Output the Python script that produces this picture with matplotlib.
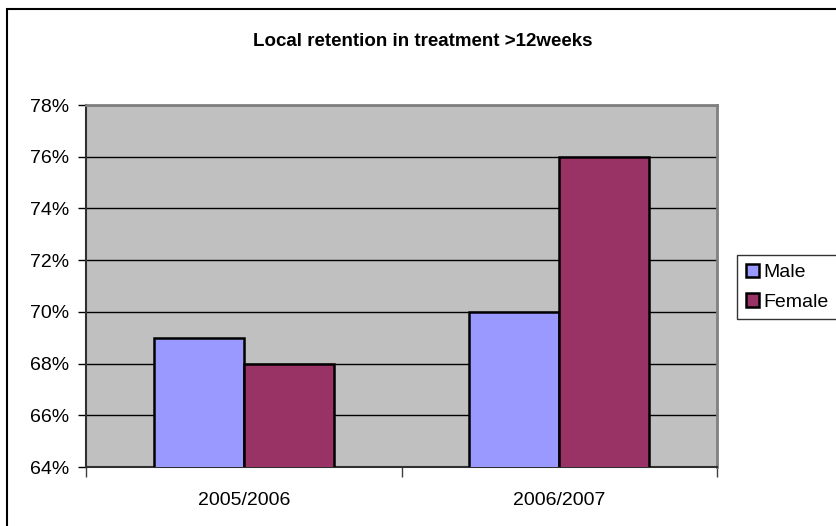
import numpy as np
import matplotlib.pyplot as plt
from matplotlib.patches import Rectangle
from matplotlib.ticker import FuncFormatter

# Data
periods = ['2005/2006', '2006/2007']
male = [69, 70]
female = [68, 76]
series_names = ['Male', 'Female']
colors = ['#9999FF', '#993366']

plt.rcParams['font.family'] = ['Liberation Sans', 'DejaVu Sans']

W, H = 837, 526
fig = plt.figure(figsize=(W / 100, H / 100), dpi=100)

# outer chart frame (runs off the right/bottom edge like the original)
fig.patches.append(Rectangle((7 / W, -0.05), 1.2, 1 - 9 / H + 0.05,
                             transform=fig.transFigure, fill=False,
                             edgecolor='black', linewidth=1.5))

ax = fig.add_axes([86 / W, 1 - 467 / H, (717 - 86) / W, (467 - 105) / H])
ax.set_facecolor('#C0C0C0')

x = np.arange(len(periods))
w = 0.285
ax.bar(x - w / 2, male, w, color=colors[0], edgecolor='black',
       linewidth=1.8, label=series_names[0], zorder=3)
ax.bar(x + w / 2, female, w, color=colors[1], edgecolor='black',
       linewidth=1.8, label=series_names[1], zorder=3)

ax.set_ylim(64, 78)
ax.set_xlim(-0.5, 1.5)
ax.set_yticks(np.arange(64, 79, 2))
ax.yaxis.set_major_formatter(FuncFormatter(lambda v, p: f'{v:.0f}%'))
ax.grid(axis='y', color='black', linewidth=1, zorder=1)
ax.set_axisbelow(True)

ax.set_xticks(x)
ax.set_xticklabels(periods)
ax.set_xticks([-0.5, 0.5, 1.5], minor=True)
ax.tick_params(axis='x', which='major', length=0, pad=18, labelsize=14)
ax.tick_params(axis='x', which='minor', length=7, width=1, color='#404040')
ax.tick_params(axis='y', length=6, width=1, pad=6, labelsize=14)

for s in ['top', 'right']:
    ax.spines[s].set_color('#808080')
    ax.spines[s].set_linewidth(2)
for s in ['left', 'bottom']:
    ax.spines[s].set_color('#303030')
    ax.spines[s].set_linewidth(1.5)

fig.text(423 / W, 1 - 42 / H, 'Local retention in treatment >12weeks',
         ha='center', va='center', fontsize=13.5, fontweight='bold')

leg = fig.legend(loc='upper left', bbox_to_anchor=(737 / W, 1 - 255 / H),
                 fontsize=14, frameon=True, fancybox=False, edgecolor='black',
                 handlelength=0.7, handleheight=0.7, handletextpad=0.2,
                 borderpad=0.45, labelspacing=0.6, borderaxespad=0)
leg.get_frame().set_linewidth(1)

fig.savefig('out.png', dpi=100)
